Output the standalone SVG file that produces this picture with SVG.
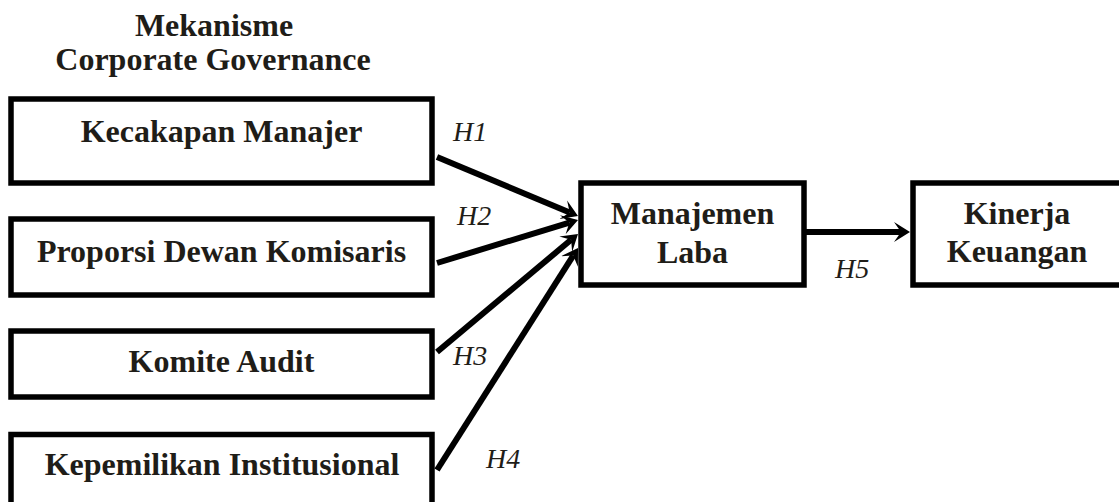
<svg xmlns="http://www.w3.org/2000/svg" width="1119" height="502" viewBox="0 0 1119 502">
<style>
.box{fill:#fff;stroke:#000;stroke-width:5.5}
.t{font-family:"Liberation Serif","Times New Roman",serif;font-weight:bold;font-size:32px;fill:#1f1d18;text-anchor:middle}
.h{font-family:"Liberation Serif","Times New Roman",serif;font-style:italic;font-size:28px;fill:#1f1d18}
.c{stroke:#000;stroke-width:6;fill:none;marker-end:url(#ah)}
</style>
<defs>
<marker id="ah" markerUnits="userSpaceOnUse" markerWidth="20" markerHeight="22" refX="7" refY="11" orient="auto" viewBox="0 0 20 22">
<path d="M0,1 L16,11 L0,21 L7,11 Z" fill="#000"/>
</marker>
</defs>
<rect width="1119" height="502" fill="#fff"/>
<g id="title">
<text class="t" x="214" y="36">Mekanisme</text>
<text class="t" x="213" y="70">Corporate Governance</text>
</g>
<g id="connectors">
<line class="c" x1="437" y1="157" x2="569.7" y2="212.5"/>
<line class="c" x1="437" y1="263" x2="569.4" y2="222.6"/>
<line class="c" x1="437" y1="352" x2="571.1" y2="239.8"/>
<line class="c" x1="437" y1="470" x2="573.2" y2="255.6"/>
<line class="c" x1="806" y1="232" x2="901" y2="232"/>
<text class="h" x="453" y="141">H1</text>
<text class="h" x="457" y="225">H2</text>
<text class="h" x="453" y="365">H3</text>
<text class="h" x="486" y="468">H4</text>
<text class="h" x="835" y="278">H5</text>
</g>
<g id="kecakapan">
<rect class="box" x="11" y="99" width="421" height="84"/>
<text class="t" x="221.5" y="142">Kecakapan Manajer</text>
</g>
<g id="proporsi">
<rect class="box" x="11" y="219" width="421" height="76"/>
<text class="t" x="221.5" y="262">Proporsi Dewan Komisaris</text>
</g>
<g id="komite">
<rect class="box" x="11" y="331" width="421" height="66"/>
<text class="t" x="221.5" y="372">Komite Audit</text>
</g>
<g id="kepemilikan">
<rect class="box" x="11" y="434.5" width="421" height="80"/>
<text class="t" x="222" y="475">Kepemilikan Institusional</text>
</g>
<g id="manajemen">
<rect class="box" x="581" y="183" width="223" height="102"/>
<text class="t" x="692.5" y="224">Manajemen</text>
<text class="t" x="692.5" y="263">Laba</text>
</g>
<g id="kinerja">
<rect class="box" x="913" y="183" width="210" height="102"/>
<text class="t" x="1017" y="224">Kinerja</text>
<text class="t" x="1017" y="262">Keuangan</text>
</g>
</svg>
